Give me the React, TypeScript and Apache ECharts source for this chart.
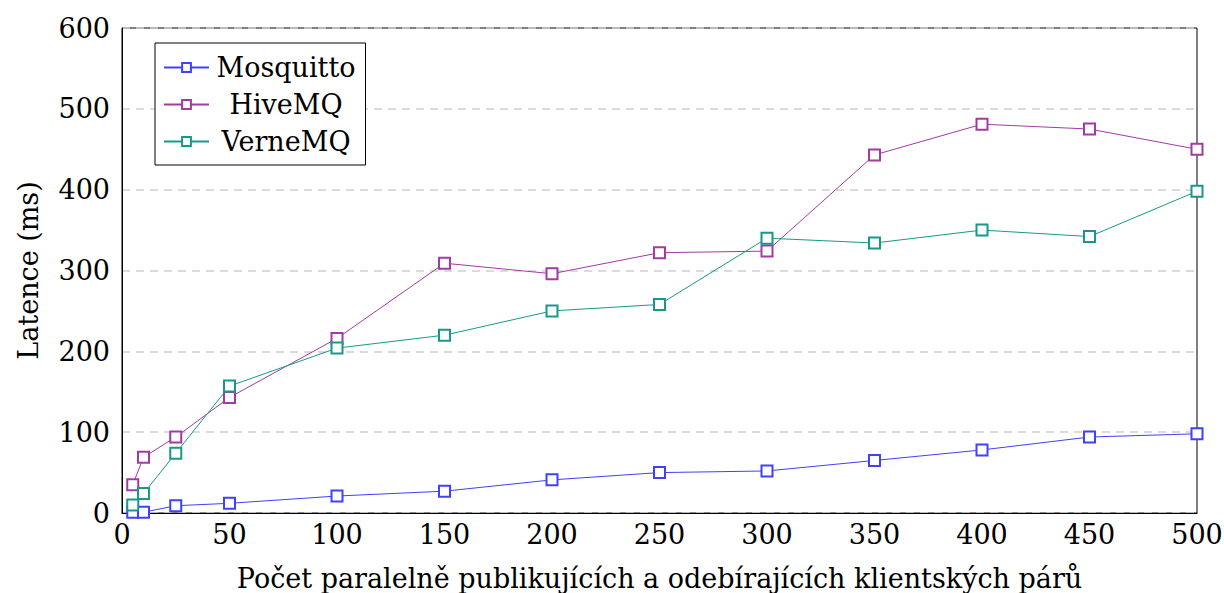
import React, { useEffect, useRef } from "react";
import * as echarts from "echarts";

const xValues = [5, 10, 25, 50, 100, 150, 200, 250, 300, 350, 400, 450, 500];
const mosquitto = [1, 1, 9, 12, 21, 27, 41, 50, 52, 65, 78, 94, 98];
const hivemq = [35, 69, 94, 143, 216, 309, 296, 322, 324, 443, 481, 475, 450];
const vernemq = [10, 24, 74, 157, 204, 220, 250, 258, 340, 334, 350, 342, 398];
const seriesNames = ["Mosquitto", "HiveMQ", "VerneMQ"];
const colors = ["#4040ff", "#a33aa3", "#16998a"];

const FONT = "DejaVu Serif";

export default function App() {
  const ref = useRef<HTMLDivElement>(null);
  useEffect(() => {
    document.body.style.margin = "0";
    const chart = echarts.init(ref.current!, null, { renderer: "svg" });
    const dataSets = [mosquitto, hivemq, vernemq];
    const tick = { fontFamily: FONT, fontSize: 27, color: "#000" };
    const title = { fontFamily: FONT, fontSize: 27, color: "#000" };
    chart.setOption({
      animation: false,
      backgroundColor: "#ffffff",
      textStyle: { fontFamily: FONT },
      grid: {
        left: 122,
        right: 27,
        top: 28,
        bottom: 80,
        containLabel: false,
        outerBoundsMode: "none",
        show: true,
        borderColor: "#000",
        borderWidth: 1,
        backgroundColor: "transparent",
      },
      legend: {
        orient: "vertical",
        left: 155,
        top: 43,
        padding: [11, 10, 10, 8],
        borderColor: "#000",
        borderWidth: 1,
        backgroundColor: "#fff",
        itemWidth: 45,
        itemHeight: 11,
        itemGap: 10,
        formatter: (n: string) => `{c|${n}}`,
        textStyle: {
          ...title,
          rich: { c: { fontFamily: FONT, fontSize: 27, color: "#000", width: 144, align: "center" } },
        },
        data: seriesNames,
      },
      xAxis: {
        type: "value",
        min: 0,
        max: 500,
        interval: 50,
        name: "Počet paralelně publikujících a odebírajících klientských párů",
        nameLocation: "middle",
        nameGap: 52,
        nameTextStyle: title,
        axisLine: { show: true, lineStyle: { color: "#000", width: 1 } },
        axisTick: { show: false },
        splitLine: { show: false },
        axisLabel: { ...tick, margin: 8 },
      },
      yAxis: {
        type: "value",
        min: 0,
        max: 600,
        interval: 100,
        name: "Latence (ms)",
        nameLocation: "middle",
        nameGap: 80,
        nameTextStyle: title,
        axisLine: { show: true, lineStyle: { color: "#000", width: 1 } },
        axisTick: { show: false },
        splitLine: { show: true, lineStyle: { color: "#d0d0d0", type: [8, 6], width: 1.5 } },
        axisLabel: { ...tick, margin: 12 },
      },
      series: seriesNames.map((name, i) => ({
        name,
        type: "line",
        data: xValues.map((x, j) => [x, dataSets[i][j]]),
        symbol: "emptyRect",
        symbolSize: 11,
        showSymbol: true,
        lineStyle: { color: colors[i], width: 1 },
        itemStyle: { color: colors[i], borderColor: colors[i], borderWidth: 1 },
        z: 3,
      })),
    });
    return () => chart.dispose();
  }, []);
  return <div ref={ref} style={{ width: 1224, height: 593 }} />;
}
